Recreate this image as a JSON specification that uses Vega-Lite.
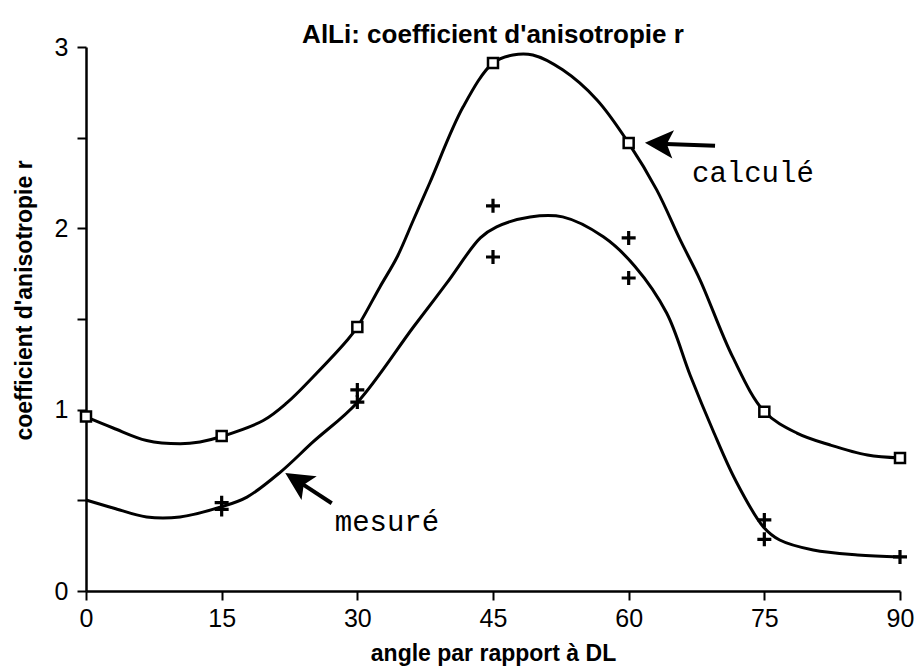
{
  "$schema": "https://vega.github.io/schema/vega-lite/v6.json",
  "width": 814,
  "height": 544,
  "autosize": {"type": "none"},
  "padding": {"left": 86, "top": 47, "right": 19, "bottom": 75},
  "background": "white",
  "title": {
    "text": "AlLi: coefficient d'anisotropie r",
    "font": "Liberation Sans",
    "fontSize": 26,
    "fontWeight": "bold",
    "color": "black",
    "anchor": "middle",
    "baseline": "alphabetic",
    "offset": 5,
    "dy": 39
  },
  "datasets": {
    "curves": [
      {"serie": "calculé", "angle": 0, "r": 0.96},
      {"serie": "calculé", "angle": 3.0, "r": 0.899},
      {"serie": "calculé", "angle": 6.7, "r": 0.83},
      {"serie": "calculé", "angle": 10.4, "r": 0.812},
      {"serie": "calculé", "angle": 12.6, "r": 0.822},
      {"serie": "calculé", "angle": 15, "r": 0.852},
      {"serie": "calculé", "angle": 19.6, "r": 0.94},
      {"serie": "calculé", "angle": 22.2, "r": 1.037},
      {"serie": "calculé", "angle": 25.1, "r": 1.18},
      {"serie": "calculé", "angle": 28.9, "r": 1.384},
      {"serie": "calculé", "angle": 30, "r": 1.456},
      {"serie": "calculé", "angle": 32.5, "r": 1.677},
      {"serie": "calculé", "angle": 34.4, "r": 1.842},
      {"serie": "calculé", "angle": 36.2, "r": 2.046},
      {"serie": "calculé", "angle": 38.0, "r": 2.25},
      {"serie": "calculé", "angle": 41.7, "r": 2.67},
      {"serie": "calculé", "angle": 45, "r": 2.912},
      {"serie": "calculé", "angle": 47.2, "r": 2.956},
      {"serie": "calculé", "angle": 49.4, "r": 2.956},
      {"serie": "calculé", "angle": 52.7, "r": 2.874},
      {"serie": "calculé", "angle": 56.5, "r": 2.708},
      {"serie": "calculé", "angle": 60, "r": 2.47},
      {"serie": "calculé", "angle": 63.1, "r": 2.212},
      {"serie": "calculé", "angle": 65.7, "r": 1.936},
      {"serie": "calculé", "angle": 67.9, "r": 1.715},
      {"serie": "calculé", "angle": 71.5, "r": 1.291},
      {"serie": "calculé", "angle": 75, "r": 0.99},
      {"serie": "calculé", "angle": 78.6, "r": 0.871},
      {"serie": "calculé", "angle": 82.3, "r": 0.805},
      {"serie": "calculé", "angle": 86.4, "r": 0.75},
      {"serie": "calculé", "angle": 90, "r": 0.734},
      {"serie": "mesuré", "angle": 0, "r": 0.502},
      {"serie": "mesuré", "angle": 3.0, "r": 0.458},
      {"serie": "mesuré", "angle": 6.7, "r": 0.408},
      {"serie": "mesuré", "angle": 10.4, "r": 0.408},
      {"serie": "mesuré", "angle": 15, "r": 0.465},
      {"serie": "mesuré", "angle": 17.8, "r": 0.518},
      {"serie": "mesuré", "angle": 21.5, "r": 0.656},
      {"serie": "mesuré", "angle": 25.1, "r": 0.822},
      {"serie": "mesuré", "angle": 30, "r": 1.04},
      {"serie": "mesuré", "angle": 36.2, "r": 1.456},
      {"serie": "mesuré", "angle": 39.9, "r": 1.699},
      {"serie": "mesuré", "angle": 43.6, "r": 1.947},
      {"serie": "mesuré", "angle": 45.4, "r": 2.008},
      {"serie": "mesuré", "angle": 49.1, "r": 2.063},
      {"serie": "mesuré", "angle": 52.7, "r": 2.063},
      {"serie": "mesuré", "angle": 57.2, "r": 1.953},
      {"serie": "mesuré", "angle": 60.7, "r": 1.79},
      {"serie": "mesuré", "angle": 64.2, "r": 1.533},
      {"serie": "mesuré", "angle": 66.8, "r": 1.19},
      {"serie": "mesuré", "angle": 69.3, "r": 0.888},
      {"serie": "mesuré", "angle": 71.8, "r": 0.612},
      {"serie": "mesuré", "angle": 74.9, "r": 0.353},
      {"serie": "mesuré", "angle": 76.7, "r": 0.281},
      {"serie": "mesuré", "angle": 80.4, "r": 0.226},
      {"serie": "mesuré", "angle": 85.3, "r": 0.199},
      {"serie": "mesuré", "angle": 90, "r": 0.188}
    ],
    "calcule": [
      {"angle": 0, "r": 0.963},
      {"angle": 15, "r": 0.855},
      {"angle": 30, "r": 1.456},
      {"angle": 45, "r": 2.912},
      {"angle": 60, "r": 2.471},
      {"angle": 75, "r": 0.988},
      {"angle": 90, "r": 0.734}
    ],
    "mesure": [
      {"angle": 15, "r": 0.487},
      {"angle": 15, "r": 0.45},
      {"angle": 30, "r": 1.109},
      {"angle": 30, "r": 1.042},
      {"angle": 45, "r": 2.124},
      {"angle": 45, "r": 1.842},
      {"angle": 60, "r": 1.947},
      {"angle": 60, "r": 1.726},
      {"angle": 75, "r": 0.392},
      {"angle": 75, "r": 0.285},
      {"angle": 90, "r": 0.188}
    ],
    "arrows": [
      {"label": "calculé", "x0": 69.55, "y0": 2.455, "x1": 63.36, "y1": 2.467, "tx": 67.0, "ty": 2.256},
      {"label": "mesuré", "x0": 27.17, "y0": 0.484, "x1": 23.35, "y1": 0.609, "tx": 27.5, "ty": 0.331}
    ]
  },
  "data": {"name": "curves"},
  "layer": [
    {
      "mark": {"type": "line", "interpolate": "catmull-rom", "color": "black", "strokeWidth": 3},
      "encoding": {
        "x": {"field": "angle", "type": "quantitative", "scale": {"domain": [0, 90], "nice": false},
          "axis": {"values": [0, 15, 30, 45, 60, 75, 90], "title": "angle par rapport à DL", "titleY": 69, "titleBaseline": "alphabetic", "labelPadding": 6}},
        "y": {"field": "r", "type": "quantitative", "scale": {"domain": [0, 3], "nice": false},
          "axis": {"values": [0, 0.5, 1, 1.5, 2, 2.5, 3], "labelExpr": "datum.value % 1 === 0 ? format(datum.value, 'd') : ''", "title": "coefficient d'anisotropie r", "titleX": -62, "titleY": 253, "titleBaseline": "middle", "titleAlign": "center", "titleAngle": -90, "labelPadding": 9}},
        "detail": {"field": "serie"}
      }
    },
    {
      "data": {"name": "calcule"},
      "mark": {"type": "point", "shape": "square", "filled": false, "size": 100, "stroke": "black", "strokeWidth": 2.5, "fill": "white", "fillOpacity": 1},
      "encoding": {
        "x": {"field": "angle", "type": "quantitative"},
        "y": {"field": "r", "type": "quantitative"}
      }
    },
    {
      "data": {"name": "mesure"},
      "mark": {"type": "point", "shape": "M-1,0L1,0M0,-1L0,1", "filled": false, "size": 196, "stroke": "black", "strokeWidth": 3.2, "opacity": 1},
      "encoding": {
        "x": {"field": "angle", "type": "quantitative"},
        "y": {"field": "r", "type": "quantitative"}
      }
    },
    {
      "data": {"name": "arrows"},
      "mark": {"type": "rule", "color": "black", "strokeWidth": 4},
      "encoding": {
        "x": {"field": "x0", "type": "quantitative"},
        "y": {"field": "y0", "type": "quantitative"},
        "x2": {"field": "x1"},
        "y2": {"field": "y1"}
      }
    },
    {
      "data": {"name": "arrows"},
      "transform": [{"filter": "datum.label === 'calculé'"}],
      "mark": {"type": "point", "shape": "M-1,0L1,-1L0.55,0L1,1Z", "filled": true, "size": 800, "color": "black", "opacity": 1, "angle": 3.4},
      "encoding": {
        "x": {"field": "x1", "type": "quantitative"},
        "y": {"field": "y1", "type": "quantitative"}
      }
    },
    {
      "data": {"name": "arrows"},
      "transform": [{"filter": "datum.label === 'mesuré'"}],
      "mark": {"type": "point", "shape": "M-1,0L1,-1L0.55,0L1,1Z", "filled": true, "size": 800, "color": "black", "opacity": 1, "angle": 32.5},
      "encoding": {
        "x": {"field": "x1", "type": "quantitative"},
        "y": {"field": "y1", "type": "quantitative"}
      }
    },
    {
      "data": {"name": "arrows"},
      "mark": {"type": "text", "font": "Liberation Mono", "fontSize": 29, "align": "left", "baseline": "alphabetic", "color": "black"},
      "encoding": {
        "x": {"field": "tx", "type": "quantitative"},
        "y": {"field": "ty", "type": "quantitative"},
        "text": {"field": "label"}
      }
    }
  ],
  "config": {
    "view": {"stroke": null},
    "axis": {
      "grid": false,
      "domainColor": "black",
      "domainWidth": 2.5,
      "tickColor": "black",
      "tickWidth": 2,
      "tickSize": 9,
      "labelFont": "Liberation Sans",
      "labelFontSize": 25,
      "labelColor": "black",
      "labelFlush": false,
      "labelOverlap": false,
      "titleFont": "Liberation Sans",
      "titleFontSize": 23,
      "titleFontWeight": "bold",
      "titleColor": "black"
    }
  }
}
